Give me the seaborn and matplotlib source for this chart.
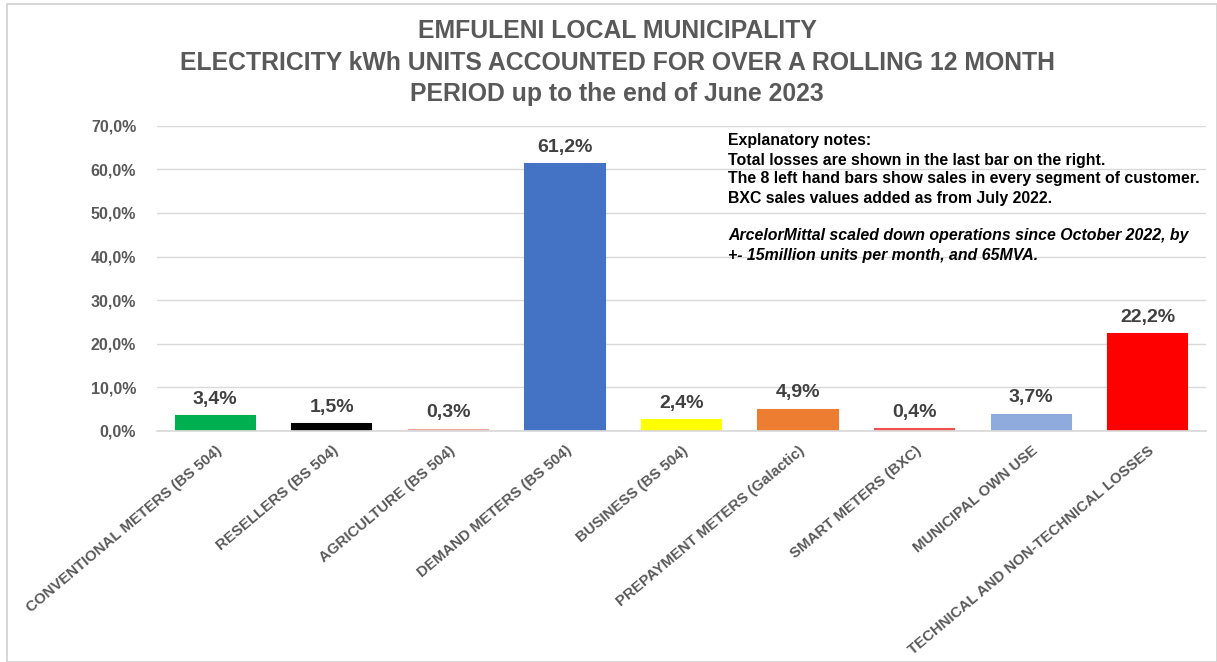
import matplotlib
matplotlib.use("Agg")
import matplotlib.pyplot as plt
import pandas as pd
import seaborn as sns
from matplotlib.patches import Rectangle
from matplotlib.ticker import FuncFormatter

categories = [
    "CONVENTIONAL METERS (BS 504)",
    "RESELLERS (BS 504)",
    "AGRICULTURE (BS 504)",
    "DEMAND METERS (BS 504)",
    "BUSINESS (BS 504)",
    "PREPAYMENT METERS (Galactic)",
    "SMART METERS (BXC)",
    "MUNICIPAL OWN USE",
    "TECHNICAL AND NON-TECHNICAL LOSSES",
]
shares = [3.4, 1.5, 0.3, 61.2, 2.4, 4.9, 0.4, 3.7, 22.2]
bar_colors = ["#00B050", "#000000", "#F4A6A0", "#4472C4", "#FFFF00",
              "#ED7D31", "#F05050", "#8FAADC", "#FF0000"]

title_lines = [
    "EMFULENI LOCAL MUNICIPALITY",
    "ELECTRICITY kWh UNITS ACCOUNTED FOR OVER A ROLLING 12 MONTH",
    "PERIOD up to the end of June 2023",
]
notes_bold = [
    "Explanatory notes:",
    "Total losses are shown in the last bar on the right.",
    "The 8 left hand bars show sales in every segment of customer.",
    "BXC sales values added as from July 2022.",
]
notes_italic = [
    "ArcelorMittal scaled down operations since October 2022, by",
    "+- 15million units per month, and 65MVA.",
]

sns.set_theme(style="white")
plt.rcParams["font.family"] = ["Liberation Sans", "DejaVu Sans"]

GRAY = "#595959"
df = pd.DataFrame({"category": categories, "share": shares})

fig = plt.figure(figsize=(12.17, 6.62), dpi=100)
ax = fig.add_axes([0.129, 0.349, 0.862, 0.461])

sns.barplot(data=df, x="category", y="share", hue="category",
            palette=dict(zip(categories, bar_colors)), width=0.68,
            legend=False, saturation=1, ax=ax)
for patch in ax.patches:
    patch.set_edgecolor(patch.get_facecolor())
    patch.set_linewidth(1.5)

ax.set_ylim(0, 70)
ax.set_yticks(range(0, 71, 10))
ax.yaxis.set_major_formatter(FuncFormatter(lambda v, _: f"{v:.1f}%".replace(".", ",")))
ax.grid(axis="y", color="#D9D9D9", linewidth=1)
ax.set_axisbelow(True)
for s in ["top", "right", "left"]:
    ax.spines[s].set_visible(False)
ax.spines["bottom"].set_color("#D9D9D9")
ax.set_xlabel("")
ax.set_ylabel("")
ax.tick_params(axis="y", length=0, pad=15, labelsize=11.5, labelcolor=GRAY)
ax.tick_params(axis="x", length=0, pad=9, labelsize=10.8, labelcolor=GRAY)
for lbl in ax.get_yticklabels():
    lbl.set_fontweight("bold")
ax.set_xticks(range(len(categories)))
ax.set_xticklabels(categories, rotation=40, ha="right", rotation_mode="anchor",
                   fontweight="bold")

for i, v in enumerate(shares):
    ax.annotate(f"{v:.1f}%".replace(".", ","), (i, v), xytext=(0, 6),
                textcoords="offset points", ha="center", va="bottom",
                fontsize=14, fontweight="bold", color="#404040")

for k, line in enumerate(title_lines):
    fig.text(0.507, 1 - (31 + 31.5 * k) / 662, line, ha="center", va="center",
             fontsize=17.8, fontweight="bold", color=GRAY)

for k, line in enumerate(notes_bold):
    fig.text(728 / 1217, 1 - (141 + 19 * k) / 662, line, ha="left", va="center",
             fontsize=11.4, fontweight="bold", color="black")
for k, line in enumerate(notes_italic):
    fig.text(728 / 1217, 1 - (236 + 19 * k) / 662, line, ha="left", va="center",
             fontsize=11.4, fontweight="bold", style="italic", color="black")

fig.patches.append(Rectangle((7 / 1217, 0), 1 - 7 / 1217, 1 - 4 / 662,
                             transform=fig.transFigure, fill=False,
                             edgecolor="#D0D0D0", linewidth=1.2))

fig.savefig("out.png", dpi=100)
